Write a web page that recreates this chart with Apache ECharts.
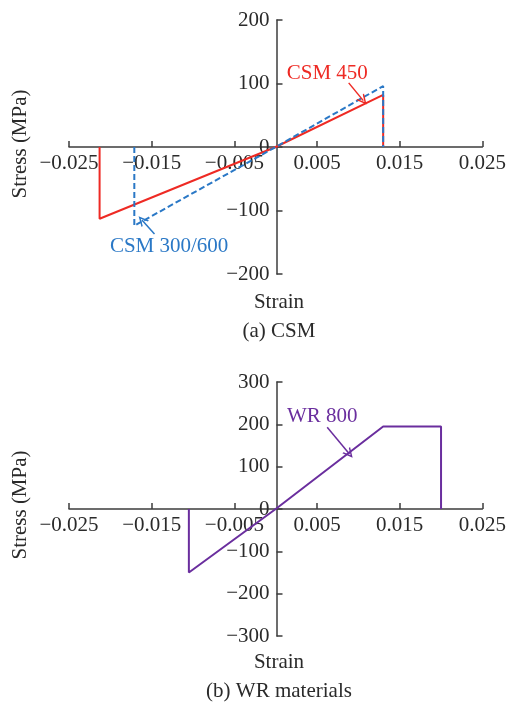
<!DOCTYPE html>
<html>
<head>
<meta charset="utf-8">
<script src="https://cdn.jsdelivr.net/npm/echarts@6/dist/echarts.min.js"></script>
<style>
html,body{margin:0;padding:0;background:#fff;}
#chart{width:509px;height:702px;}
</style>
</head>
<body>
<div id="chart"></div>
<script>
// ---- Data ----
const csm450Strain = [-0.0213, -0.0213, 0, 0.013, 0.013];
const csm450Stress = [0, -113, 0, 82, 0];
const csm300Strain = [-0.0171, -0.0171, 0, 0.013, 0.013];
const csm300Stress = [0, -124, 0, 96, 0];
const wr800Strain = [-0.0105, -0.0105, 0, 0.013, 0.020, 0.020];
const wr800Stress = [0, -150, 0, 195, 195, 0];

const xTicksMin = -0.025, xTicksMax = 0.025, xTickStep = 0.01;
const yTopMin = -200, yTopMax = 200;
const yBotMin = -300, yBotMax = 300;
const yStep = 100;

// annotation anchors in data units
const csm450Text = [0.00624, 116];
const csm450Arrow = [[0.00883, 101], [0.01060, 73]];
const csm300Text = [-0.01289, -157];
const csm300Arrow = [[-0.01466, -137], [-0.01618, -115]];
const wr800Text = [0.00563, 218];
const wr800Arrow = [[0.00623, 193], [0.00892, 130]];

const RED = '#ee2a24', BLUE = '#2a78c6', PURPLE = '#6a2e9e';
const AX = '#3d3d3d', TXT = '#2a2a2a';
const FONT = '"Liberation Serif", "Times New Roman", serif';
const FS = 21;

// layout
const GRID_LEFT = 69, GRID_W = 415, GRID_H = 254;
const TOP1 = 20, TOP2 = 382;

function zip(a, b) { return a.map((v, i) => [v, b[i]]); }
const chevron = 'path://M5,0 L10,10 L8.4,10 L5,3.2 L1.6,10 L0,10 Z';

function fmtX(v) {
  const a = Math.abs(v).toFixed(3);
  return (v < -1e-9 ? '\u2212' : '') + a;
}
function fmtY(v) {
  return (v < 0 ? '\u2212' : '') + Math.abs(Math.round(v));
}

function xAxisCfg(gi) {
  return {
    type: 'value', gridIndex: gi, min: xTicksMin, max: xTicksMax, interval: xTickStep,
    position: 'bottom', offset: -GRID_H / 2,
    axisLine: { onZero: false, lineStyle: { color: AX, width: 1.5 } },
    axisTick: { inside: true, length: 6, lineStyle: { color: AX, width: 1.5 } },
    axisLabel: { formatter: fmtX, margin: 6, color: TXT, fontFamily: FONT, fontSize: FS,
                 showMinLabel: true, showMaxLabel: true, hideOverlap: false },
    splitLine: { show: false }
  };
}
function yAxisCfg(gi, mn, mx) {
  return {
    type: 'value', gridIndex: gi, min: mn, max: mx, interval: yStep,
    position: 'left', offset: -GRID_W / 2,
    axisLine: { onZero: false, lineStyle: { color: AX, width: 1.5 } },
    axisTick: { inside: true, length: 6, lineStyle: { color: AX, width: 1.5 } },
    axisLabel: { formatter: fmtY, margin: 7, color: TXT, fontFamily: FONT, fontSize: FS,
                 showMinLabel: true, showMaxLabel: true, hideOverlap: false },
    splitLine: { show: false }
  };
}

function annot(color, text, textPos, arrow) {
  return {
    markPoint: {
      silent: true, animation: false,
      symbol: 'circle', symbolSize: 0,
      label: { show: true, position: 'inside', formatter: text, color: color,
               fontFamily: FONT, fontSize: FS },
      data: [{ coord: textPos }]
    },
    markLine: {
      silent: true, animation: false,
      symbol: ['none', chevron], symbolSize: 10,
      label: { show: false },
      lineStyle: { color: color, width: 1.5, type: 'solid' },
      data: [[{ coord: arrow[0] }, { coord: arrow[1] }]]
    }
  };
}

const chart = echarts.init(document.getElementById('chart'), null, { renderer: 'canvas' });
const option = {
  animation: false,
  backgroundColor: '#fff',
  grid: [
    { left: GRID_LEFT, width: GRID_W, top: TOP1, height: GRID_H, containLabel: false },
    { left: GRID_LEFT, width: GRID_W, top: TOP2, height: GRID_H, containLabel: false }
  ],
  xAxis: [xAxisCfg(0), xAxisCfg(1)],
  yAxis: [yAxisCfg(0, yTopMin, yTopMax), yAxisCfg(1, yBotMin, yBotMax)],
  series: [
    Object.assign({
      name: 'CSM 450', type: 'line', xAxisIndex: 0, yAxisIndex: 0,
      data: zip(csm450Strain, csm450Stress), showSymbol: false, symbol: 'none',
      lineStyle: { color: RED, width: 2 }, itemStyle: { color: RED }, z: 3
    }, annot(RED, 'CSM 450', csm450Text, csm450Arrow)),
    Object.assign({
      name: 'CSM 300/600', type: 'line', xAxisIndex: 0, yAxisIndex: 0,
      data: zip(csm300Strain, csm300Stress), showSymbol: false, symbol: 'none',
      lineStyle: { color: BLUE, width: 2, type: [6, 3] }, itemStyle: { color: BLUE }, z: 4
    }, annot(BLUE, 'CSM 300/600', csm300Text, csm300Arrow)),
    Object.assign({
      name: 'WR 800', type: 'line', xAxisIndex: 1, yAxisIndex: 1,
      data: zip(wr800Strain, wr800Stress), showSymbol: false, symbol: 'none',
      lineStyle: { color: PURPLE, width: 2 }, itemStyle: { color: PURPLE }, z: 3
    }, annot(PURPLE, 'WR 800', wr800Text, wr800Arrow))
  ],
  graphic: [
    { type: 'text', x: 20, y: 144, rotation: Math.PI / 2,
      style: { text: 'Stress (MPa)', fill: TXT, font: FS + 'px ' + FONT, textAlign: 'center', textVerticalAlign: 'middle' } },
    { type: 'text', x: 279, y: 302,
      style: { text: 'Strain', fill: TXT, font: FS + 'px ' + FONT, textAlign: 'center', textVerticalAlign: 'middle' } },
    { type: 'text', x: 279, y: 331,
      style: { text: '(a) CSM', fill: TXT, font: FS + 'px ' + FONT, textAlign: 'center', textVerticalAlign: 'middle' } },
    { type: 'text', x: 20, y: 505, rotation: Math.PI / 2,
      style: { text: 'Stress (MPa)', fill: TXT, font: FS + 'px ' + FONT, textAlign: 'center', textVerticalAlign: 'middle' } },
    { type: 'text', x: 279, y: 662,
      style: { text: 'Strain', fill: TXT, font: FS + 'px ' + FONT, textAlign: 'center', textVerticalAlign: 'middle' } },
    { type: 'text', x: 279, y: 691,
      style: { text: '(b) WR materials', fill: TXT, font: FS + 'px ' + FONT, textAlign: 'center', textVerticalAlign: 'middle' } }
  ]
};
chart.setOption(option);
</script>
</body>
</html>
